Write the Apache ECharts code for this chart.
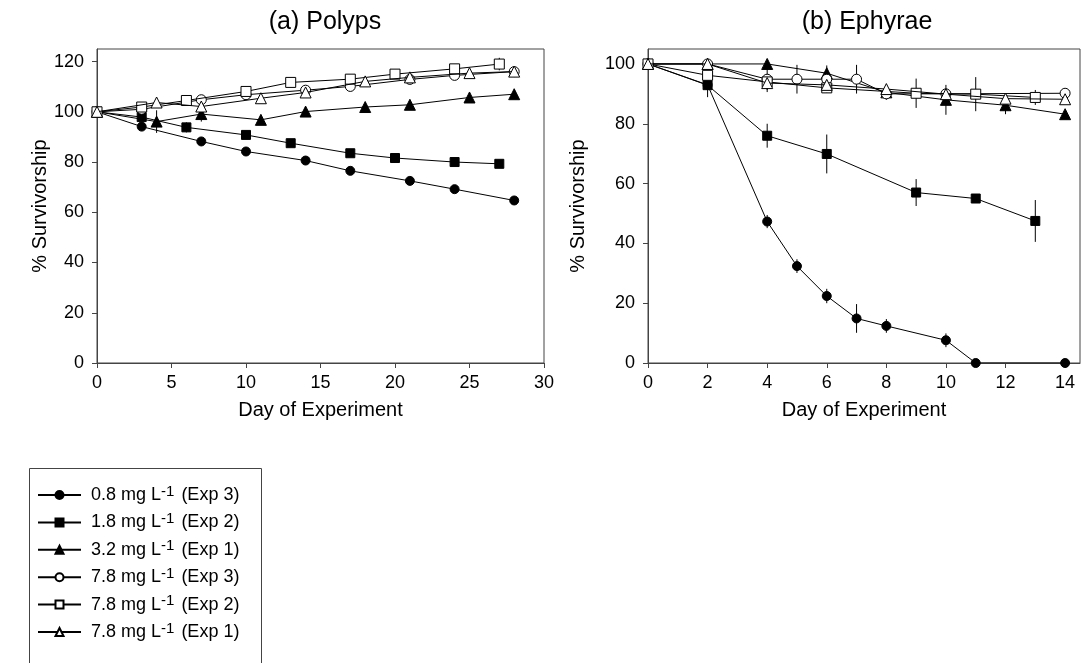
<!DOCTYPE html>
<html>
<head>
<meta charset="utf-8">
<script src="https://cdn.jsdelivr.net/npm/echarts@6/dist/echarts.min.js"></script>
<style>
  html, body { margin: 0; padding: 0; background: #fff; }
  #chart { width: 1087px; height: 663px; }
</style>
</head>
<body>
<div id="chart"></div>
<script>
// ---------- DATA ----------
const seriesNames = [
  '0.8 mg L-1 (Exp 3)',
  '1.8 mg L-1 (Exp 2)',
  '3.2 mg L-1 (Exp 1)',
  '7.8 mg L-1 (Exp 3)',
  '7.8 mg L-1 (Exp 2)',
  '7.8 mg L-1 (Exp 1)'
];

// (a) Polyps
const polypDays08 = [0, 3, 7, 10, 14, 17, 21, 24, 28];
const polypVals08 = [100, 94.1, 88.2, 84.2, 80.6, 76.5, 72.5, 69.2, 64.7];
const polypErr08  = [0, 0, 0, 0, 0, 0, 0, 0, 0];

const polypDays18 = [0, 3, 6, 10, 13, 17, 20, 24, 27];
const polypVals18 = [100, 97.9, 93.8, 90.8, 87.5, 83.5, 81.6, 80.0, 79.3];
const polypErr18  = [0, 0, 2, 0, 0, 0, 0, 0, 0];

const polypDays32 = [0, 4, 7, 11, 14, 18, 21, 25, 28];
const polypVals32 = [100, 96.1, 99.1, 96.8, 100.1, 101.9, 102.8, 105.7, 107.0];
const polypErr32  = [0, 4.5, 3, 0, 0, 0, 0, 0, 0];

const polypDays78e3 = [0, 3, 7, 10, 14, 17, 21, 24, 28];
const polypVals78e3 = [100, 101.0, 104.8, 106.8, 108.6, 110.1, 112.9, 114.5, 116.0];
const polypErr78e3  = [0, 0, 0, 0, 0, 0, 0, 0, 0];

const polypDays78e2 = [0, 3, 6, 10, 13, 17, 20, 24, 27];
const polypVals78e2 = [100, 101.9, 104.5, 108.1, 111.7, 113.0, 115.0, 117.1, 119.0];
const polypErr78e2  = [0, 2, 0, 0, 0, 0, 0, 0, 2.5];

const polypDays78e1 = [0, 4, 7, 11, 14, 18, 21, 25, 28];
const polypVals78e1 = [100, 103.7, 102.1, 105.4, 107.7, 112.1, 113.7, 115.4, 116.0];
const polypErr78e1  = [0, 0, 0, 0, 0, 0, 1.5, 0, 0];

// (b) Ephyrae
const ephDays08 = [0, 2, 4, 5, 6, 7, 8, 10, 11, 14];
const ephVals08 = [100, 93.0, 47.3, 32.4, 22.4, 14.9, 12.4, 7.6, 0, 0];
const ephErr08  = [0, 0, 2.2, 2.3, 2.4, 4.8, 2.3, 2.3, 0, 0];

const ephDays18 = [0, 2, 4, 6, 9, 11, 13];
const ephVals18 = [100, 92.9, 76.0, 69.9, 57.0, 55.0, 47.5];
const ephErr18  = [0, 4, 4, 6.5, 4.5, 1.5, 7];

const ephDays32 = [0, 2, 4, 6, 8, 10, 12, 14];
const ephVals32 = [100, 100, 100, 96.9, 90.5, 88.0, 86.2, 83.2];
const ephErr32  = [0, 0, 0, 0, 0, 5, 3, 0];

const ephDays78e3 = [0, 2, 4, 5, 6, 7, 8, 10, 14];
const ephVals78e3 = [100, 100, 94.9, 94.9, 94.9, 94.9, 90.0, 90.0, 90.2];
const ephErr78e3  = [0, 0, 3.6, 4.8, 4.6, 4.8, 2, 0, 0];

const ephDays78e2 = [0, 2, 4, 6, 9, 11, 13];
const ephVals78e2 = [100, 96.2, 94.0, 92.0, 90.2, 89.9, 88.8];
const ephErr78e2  = [0, 0, 0, 1.5, 4.9, 5.7, 2.5];

const ephDays78e1 = [0, 2, 4, 6, 8, 10, 12, 14];
const ephVals78e1 = [100, 100, 93.6, 93.0, 91.6, 89.9, 88.4, 88.2];
const ephErr78e1  = [0, 0, 3, 0, 0, 0, 0, 0];

const polypXTicks = [0, 5, 10, 15, 20, 25, 30];
const polypYTicks = [0, 20, 40, 60, 80, 100, 120];
const ephXTicks = [0, 2, 4, 6, 8, 10, 12, 14];
const ephYTicks = [0, 20, 40, 60, 80, 100];

// ---------- BUILD ----------
const FONT = 'Liberation Sans, Arial, sans-serif';
const BLACK = '#000';
const AXIS = '#444';

const styles = [
  { symbol: 'circle',   size: 9,  fill: BLACK },
  { symbol: 'rect',     size: 9,  fill: BLACK },
  { symbol: 'triangle', size: 11, fill: BLACK },
  { symbol: 'circle',   size: 10, fill: '#fff' },
  { symbol: 'rect',     size: 10, fill: '#fff' },
  { symbol: 'triangle', size: 11, fill: '#fff' }
];

const polyp = [
  [polypDays08, polypVals08, polypErr08],
  [polypDays18, polypVals18, polypErr18],
  [polypDays32, polypVals32, polypErr32],
  [polypDays78e3, polypVals78e3, polypErr78e3],
  [polypDays78e2, polypVals78e2, polypErr78e2],
  [polypDays78e1, polypVals78e1, polypErr78e1]
];
const eph = [
  [ephDays08, ephVals08, ephErr08],
  [ephDays18, ephVals18, ephErr18],
  [ephDays32, ephVals32, ephErr32],
  [ephDays78e3, ephVals78e3, ephErr78e3],
  [ephDays78e2, ephVals78e2, ephErr78e2],
  [ephDays78e1, ephVals78e1, ephErr78e1]
];

function errRender(params, api) {
  const x = api.value(0), y = api.value(1), e = api.value(2);
  const p1 = api.coord([x, y + e]);
  const p2 = api.coord([x, y - e]);
  return {
    type: 'line',
    shape: { x1: p1[0], y1: p1[1], x2: p2[0], y2: p2[1] },
    style: { stroke: BLACK, lineWidth: 1 }
  };
}

const series = [];
[polyp, eph].forEach(function (panel, gi) {
  panel.forEach(function (d) {
    const data = [];
    d[0].forEach(function (x, i) { if (d[2][i] > 0) data.push([x, d[1][i], d[2][i]]); });
    series.push({
      type: 'custom', xAxisIndex: gi, yAxisIndex: gi, z: 1,
      renderItem: errRender, data: data, silent: true,
      encode: { x: 0, y: 1 }
    });
  });
  panel.forEach(function (d, si) {
    const st = styles[si];
    series.push({
      name: seriesNames[si], type: 'line', xAxisIndex: gi, yAxisIndex: gi, z: 2 + si,
      data: d[0].map(function (x, i) { return [x, d[1][i]]; }),
      symbol: st.symbol, symbolSize: st.size, showAllSymbol: true,
      lineStyle: { color: BLACK, width: 1 },
      itemStyle: { color: st.fill, borderColor: BLACK, borderWidth: 1 },
      emphasis: { disabled: true },
      animation: false
    });
  });
});

function axisCommon() {
  return {
    axisLine: { show: true, lineStyle: { color: AXIS, width: 1 } },
    axisTick: { show: true, inside: false, length: 5, lineStyle: { color: AXIS } },
    splitLine: { show: false },
    axisLabel: { color: BLACK, fontFamily: FONT, fontSize: 18 },
    nameTextStyle: { color: BLACK, fontFamily: FONT, fontSize: 20 }
  };
}

function xAxis(gi, min, max, ticks) {
  const a = axisCommon();
  return Object.assign(a, {
    type: 'value', gridIndex: gi, min: min, max: max,
    name: 'Day of Experiment', nameLocation: 'middle', nameGap: 37,
    axisTick: Object.assign(a.axisTick, { customValues: ticks }),
    axisLabel: Object.assign(a.axisLabel, { customValues: ticks, margin: 11 })
  });
}
function yAxis(gi, min, max, ticks, gap) {
  const a = axisCommon();
  return Object.assign(a, {
    type: 'value', gridIndex: gi, min: min, max: max,
    name: '% Survivorship', nameLocation: 'middle', nameGap: gap,
    axisTick: Object.assign(a.axisTick, { customValues: ticks }),
    axisLabel: Object.assign(a.axisLabel, { customValues: ticks, margin: 13 })
  });
}

const option = {
  backgroundColor: '#fff',
  animation: false,
  title: [
    { text: '(a) Polyps', left: 320, top: 5, textAlign: 'center',
      textStyle: { fontFamily: FONT, fontSize: 25, fontWeight: 'normal', color: BLACK } },
    { text: '(b) Ephyrae', left: 862, top: 5, textAlign: 'center',
      textStyle: { fontFamily: FONT, fontSize: 25, fontWeight: 'normal', color: BLACK } }
  ],
  grid: [
    { left: 97, top: 49, width: 447, height: 314, show: true, borderColor: AXIS, borderWidth: 1, backgroundColor: 'transparent' },
    { left: 648, top: 49, width: 432, height: 314, show: true, borderColor: AXIS, borderWidth: 1, backgroundColor: 'transparent' }
  ],
  xAxis: [ xAxis(0, 0, 30, polypXTicks), xAxis(1, 0, 14.5, ephXTicks) ],
  yAxis: [ yAxis(0, 0, 125, polypYTicks, 43), yAxis(1, 0, 105, ephYTicks, 60) ],
  legend: {
    data: seriesNames,
    orient: 'vertical',
    left: 37, top: 484, padding: 0,
    itemWidth: 43, itemHeight: 10, itemGap: 5.4,
    selectedMode: false,
    formatter: function (name) { return name.replace('L-1', 'L{sup|-1}'); },
    textStyle: {
      fontFamily: FONT, fontSize: 18, color: BLACK, lineHeight: 22, padding: [0, 0, 0, 5],
      rich: { sup: { fontFamily: FONT, fontSize: 15, color: BLACK, verticalAlign: 'top', lineHeight: 14, padding: [0, 2, 0, 0] } }
    }
  },
  graphic: [
    { type: 'rect', left: 27, top: 466, shape: { width: 232, height: 230 },
      style: { fill: 'none', stroke: AXIS, lineWidth: 1 }, silent: true, z: 0 }
  ],
  series: series
};

const chart = echarts.init(document.getElementById('chart'), null, { renderer: 'canvas' });
chart.setOption(option);
</script>
</body>
</html>
